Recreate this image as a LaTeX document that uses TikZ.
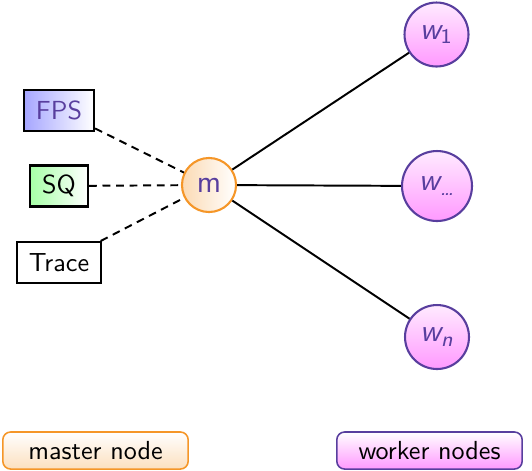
\documentclass[tikz,border=0pt]{standalone}
\usepackage{tikz}
\usetikzlibrary{positioning, arrows.meta}
\definecolor{structpurple}{RGB}{88,62,158}
\definecolor{masterorange}{RGB}{245,150,40}
\newcommand{\wsub}[1]{{\itshape w}\textsubscript{#1}}

\begin{document}
\begin{tikzpicture}[x=0.383pt, y=-0.383pt, semithick, font=\sffamily,
    master/.style={circle, draw=masterorange, thick, left color=masterorange!35, right color=white, text=structpurple, font=\sffamily\large, minimum size=20.7pt, inner sep=0pt},
    worker/.style={circle, draw=structpurple, thick, top color=magenta!8, bottom color=magenta!40, text=structpurple, font=\sffamily\large, minimum size=24.5pt, inner sep=1pt},
    source/.style={rectangle, draw=black, thick, minimum height=15.7pt, inner xsep=4.6pt, inner ysep=0pt, font=\sffamily\normalsize},
    legend/.style={rectangle, rounded corners=3pt, minimum width=71pt, minimum height=14.2pt, inner sep=0pt},
    link/.style={-, black, line width=0.75pt},
    feed/.style={-, black, line width=0.75pt, dash pattern=on 3pt off 2.2pt}]
    \useasboundingbox (0,0) rectangle (532,470);
    \node[master] (m) at (209,185) {m};
    \node[worker] (w1) at (436.5,34.5) {\wsub{1}};
    \node[worker, minimum size=26.8pt] (wdots) at (437,186) {\wsub{\textit{\dots}}};
    \node[worker] (wn) at (437,337) {\wsub{\textit{n}}};
    \node[source, left color=blue!35, right color=white, text=structpurple] (fps) at (59,110.5) {FPS};
    \node[source, left color=green!35, right color=white] (sq) at (59,186) {SQ};
    \node[source, fill=white] (trace) at (59,262.5) {Trace};
    \node[legend, draw=masterorange, top color=white, bottom color=masterorange!30] (lmaster) at (95.5,450.5) {master node};
    \node[legend, draw=structpurple, top color=white, bottom color=magenta!40] (lworker) at (429.5,450.5) {worker nodes};
    \path
      (m) edge[link] (w1)
      (m) edge[link] (wdots)
      (m) edge[link] (wn)
      (fps) edge[feed] (m)
      (sq) edge[feed] (m)
      (trace) edge[feed] (m);
\end{tikzpicture}
\end{document}
